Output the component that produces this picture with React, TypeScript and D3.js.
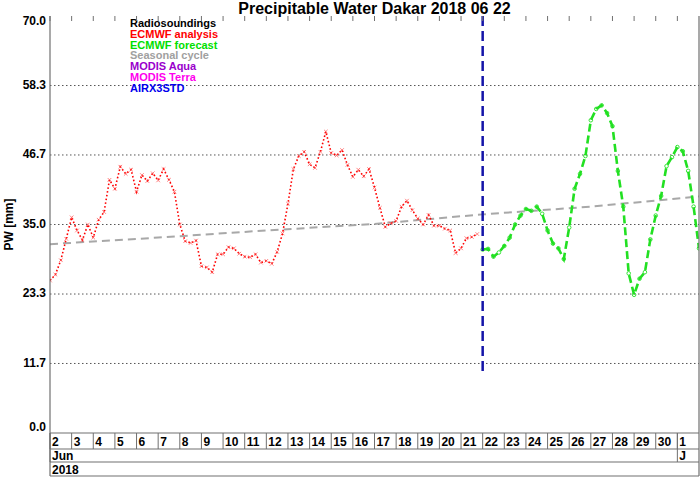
import * as d3 from 'd3';

// ── Data ──────────────────────────────────────────────────────────────
// ECMWF analysis, 6-hourly from 2018-06-02 00Z
const analysisPW = [
  25.6, 26.6, 29.0, 32.6, 36.2, 34.0, 32.4, 35.0, 32.8, 35.8,
  37.1, 42.5, 41.0, 44.7, 43.5, 44.2, 40.5, 43.3, 42.3, 43.6,
  42.4, 44.3, 42.5, 40.5, 35.0, 32.2, 31.9, 32.3, 28.0, 27.8,
  27.0, 30.0, 30.0, 31.2, 31.0, 30.1, 29.6, 29.5, 30.0, 28.6,
  28.9, 28.4, 30.4, 33.5, 38.5, 44.3, 46.5, 47.2, 45.1, 44.5,
  47.2, 50.6, 47.0, 46.6, 47.5, 45.0, 43.0, 44.2, 43.1, 44.3,
  41.2, 37.8, 34.6, 35.2, 35.6, 38.0, 39.0, 37.4, 36.0, 35.0,
  36.6, 34.8, 34.8, 34.3, 34.0, 30.2, 31.0, 32.7, 32.9, 33.4,
];
// ECMWF forecast, 6-hourly from 2018-06-22 00Z
const forecastPW = [
  30.8, 30.9, 29.6, 30.3, 31.4, 32.8, 35.0, 36.5, 37.6, 37.3,
  38.0, 36.8, 34.0, 31.8, 31.0, 29.2, 34.5, 41.0, 43.5, 46.5,
  52.5, 54.4, 55.0, 53.7, 51.5, 44.0, 38.0, 26.8, 23.2, 25.9,
  27.0, 32.5, 36.5, 39.8, 44.8, 46.3, 48.0, 47.3, 44.0, 38.0,
  31.0,
];
// Seasonal cycle: [days after 2018-06-02, PW]
const seasonalPW: [number, number][] = [
  [0, 31.7], [5, 32.8], [10, 34.0], [15, 35.1], [20, 36.7], [25, 38.0], [30, 39.7],
];
const yTicks = [0, 11.67, 23.33, 35, 46.67, 58.33, 70];
const monthLabels = ['Jun', 'J'];
const yearLabels = ['2018'];
const legendItems = [
  { name: 'Radiosoundings', color: '#000000' },
  { name: 'ECMWF analysis', color: '#ff0000' },
  { name: 'ECMWF forecast', color: '#00e000' },
  { name: 'Seasonal cycle', color: '#a0a0a0' },
  { name: 'MODIS Aqua', color: '#9900cc' },
  { name: 'MODIS Terra', color: '#ff00ee' },
  { name: 'AIRX3STD', color: '#0000ee' },
];
const analysisStart = new Date(Date.UTC(2018, 5, 2));
const forecastStart = new Date(Date.UTC(2018, 5, 22));
const axisStart = new Date(Date.UTC(2018, 5, 2));
const axisEnd = new Date(Date.UTC(2018, 6, 2));
const forecastLineBottom = 9.6;

const W = 700;
const H = 477;
const M = { left: 50, right: 699, top: 16, bottom: 433 };
const ROW1 = 449;
const ROW2 = 462;
const ROW3 = 476;
const FONT = 'Liberation Sans, Arial, Helvetica, sans-serif';
const FRAME = '#707070';

const SIX_H = 6 * 3600 * 1000;

export default function App() {
  const x = d3.scaleUtc().domain([axisStart, axisEnd]).range([M.left, M.right]);
  const y = d3.scaleLinear().domain([0, 70]).range([M.bottom, M.top]);

  const analysis = analysisPW.map((v, i) => ({ t: new Date(+analysisStart + i * SIX_H), v }));
  const forecast = forecastPW.map((v, i) => ({ t: new Date(+forecastStart + i * SIX_H), v }));
  const seasonal = seasonalPW.map(([d, v]) => ({ t: d3.utcDay.offset(axisStart, d), v }));

  const line = d3
    .line<{ t: Date; v: number }>()
    .x((d) => x(d.t))
    .y((d) => y(d.v));

  const days = d3.utcDay.range(axisStart, axisEnd);
  const months = d3.utcMonth.range(d3.utcMonth.floor(axisStart), axisEnd);
  const years = d3.utcYear.range(d3.utcYear.floor(axisStart), axisEnd);

  return (
    <svg
      width={W}
      height={H}
      style={{ position: 'absolute', left: 0, top: 0, background: '#fff' }}
      fontFamily={FONT}
    >
      <defs>
        <clipPath id="plot">
          <rect x={M.left} y={M.top} width={M.right - M.left} height={M.bottom - M.top} />
        </clipPath>
      </defs>

      {/* Title */}
      <text x={(M.left + M.right) / 2} y={13.5} textAnchor="middle" fontSize={16} fontWeight="bold">
        Precipitable Water Dakar 2018 06 22
      </text>

      {/* Horizontal grid */}
      {yTicks.slice(1, -1).map((t) => (
        <line
          key={t}
          x1={M.left}
          x2={M.right}
          y1={y(t)}
          y2={y(t)}
          stroke="#555"
          strokeWidth={1}
          strokeDasharray="1.5,2.5"
        />
      ))}

      {/* Y tick labels */}
      {yTicks.map((t) => (
        <text
          key={t}
          x={46}
          y={Math.min(Math.max(y(t), M.top + 6), M.bottom - 5)}
          textAnchor="end"
          dominantBaseline="middle"
          fontSize={12}
          fontWeight="bold"
        >
          {t.toFixed(1)}
        </text>
      ))}

      {/* Y label */}
      <text
        transform={`translate(13,${(M.top + M.bottom) / 2}) rotate(-90)`}
        textAnchor="middle"
        fontSize={12}
        fontWeight="bold"
      >
        PW [mm]
      </text>

      {/* Legend */}
      {legendItems.map((d, i) => (
        <text key={d.name} x={130} y={27 + i * 10.8} fill={d.color} fontSize={11} fontWeight="bold">
          {d.name}
        </text>
      ))}

      <g clipPath="url(#plot)">
        {/* Seasonal cycle */}
        <path
          d={line(seasonal) ?? ''}
          fill="none"
          stroke="#a8a8a8"
          strokeWidth={2}
          strokeDasharray="8,5"
        />

        {/* ECMWF analysis */}
        <path
          d={line(analysis) ?? ''}
          fill="none"
          stroke="#ff0000"
          strokeWidth={1.6}
          strokeDasharray="1.6,2.2"
        />
        {analysis.map((d, i) => (
          <path
            key={i}
            d={`M${x(d.t) - 1.8},${y(d.v) - 1.8}L${x(d.t) + 1.8},${y(d.v) + 1.8}M${x(d.t) - 1.8},${y(d.v) + 1.8}L${x(d.t) + 1.8},${y(d.v) - 1.8}`}
            stroke="#ff4040"
            strokeWidth={0.8}
            opacity={0.8}
          />
        ))}

        {/* ECMWF forecast */}
        <path
          d={line(forecast) ?? ''}
          fill="none"
          stroke="#22e022"
          strokeWidth={2.6}
          strokeDasharray="8,4"
        />
        {forecast.map((d, i) => (
          <circle key={i} cx={x(d.t)} cy={y(d.v)} r={1.8} fill="none" stroke="#22e022" strokeWidth={0.9} />
        ))}
      </g>

      {/* Forecast start */}
      <line
        x1={x(forecastStart)}
        x2={x(forecastStart)}
        y1={M.top}
        y2={y(forecastLineBottom)}
        stroke="#1414a8"
        strokeWidth={2.5}
        strokeDasharray="10,5"
      />

      {/* Top ticks */}
      {days.map((d) => (
        <line key={+d} x1={x(d)} x2={x(d)} y1={M.top} y2={M.top + 5} stroke={FRAME} strokeWidth={1} />
      ))}

      {/* Frame */}
      <line x1={M.left} x2={M.left} y1={M.top} y2={ROW3} stroke={FRAME} strokeWidth={1.2} />
      <line x1={M.right} x2={M.right} y1={M.top} y2={ROW3} stroke={FRAME} strokeWidth={1.2} />
      {[M.bottom, ROW1, ROW2, ROW3].map((yy) => (
        <line key={yy} x1={M.left} x2={M.right} y1={yy} y2={yy} stroke={FRAME} strokeWidth={1.2} />
      ))}

      {/* Day row */}
      {days.map((d) => (
        <g key={+d}>
          <line x1={x(d)} x2={x(d)} y1={M.bottom} y2={ROW1} stroke={FRAME} strokeWidth={1} />
          <text x={x(d) + 2} y={446} fontSize={12} fontWeight="bold">
            {d.getUTCDate()}
          </text>
        </g>
      ))}

      {/* Month row */}
      {months.map((d, i) => {
        const xx = Math.max(x(d), M.left);
        return (
          <g key={+d}>
            <line x1={xx} x2={xx} y1={M.bottom} y2={ROW2} stroke={FRAME} strokeWidth={1} />
            <text x={xx + 2} y={459.5} fontSize={12} fontWeight="bold">
              {monthLabels[i]}
            </text>
          </g>
        );
      })}

      {/* Year row */}
      {years.map((d, i) => (
        <text key={+d} x={Math.max(x(d), M.left) + 2} y={473.5} fontSize={12} fontWeight="bold">
          {yearLabels[i]}
        </text>
      ))}
    </svg>
  );
}
